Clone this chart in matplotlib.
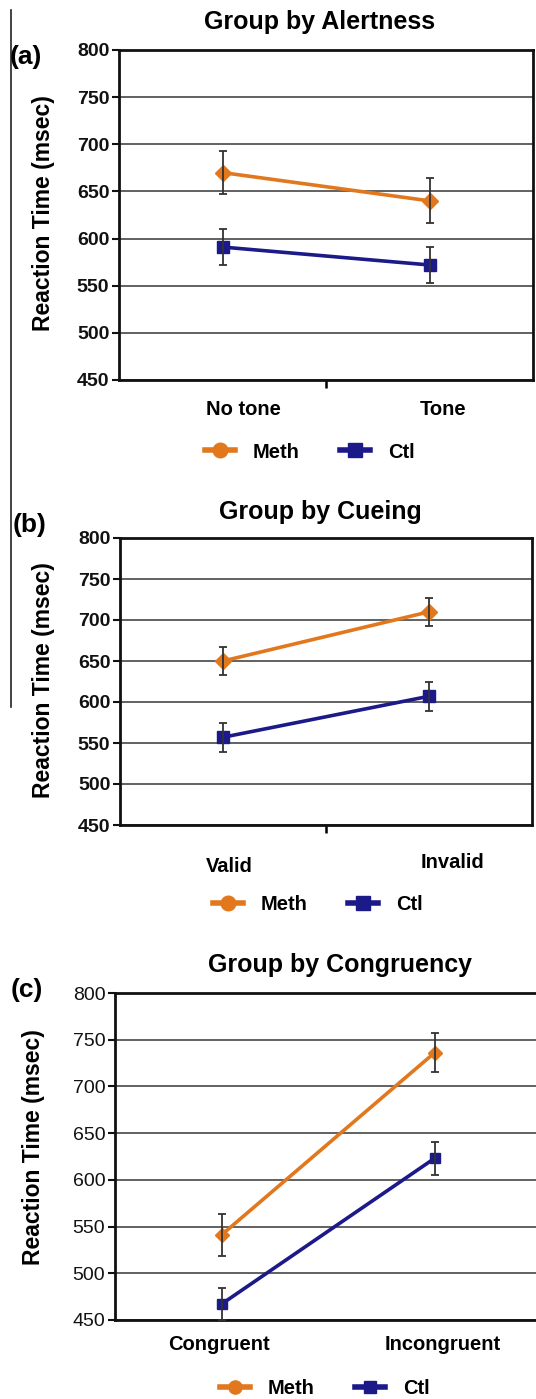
import matplotlib
matplotlib.use("Agg")
import matplotlib.pyplot as plt
from matplotlib.lines import Line2D

W, H = 536, 1399
plt.rcParams['font.family'] = ['Liberation Sans', 'DejaVu Sans']

# ---- data ----
titles = ["Group by Alertness", "Group by Cueing", "Group by Congruency"]
panel_tags = ["(a)", "(b)", "(c)"]
categories_a = ["No tone", "Tone"]
categories_b = ["Valid", "Invalid"]
categories_c = ["Congruent", "Incongruent"]
series_names = ["Meth", "Ctl"]

meth_a = [670, 640]
meth_a_err = [23, 24]
ctl_a = [591, 572]
ctl_a_err = [19, 19]

meth_b = [650, 710]
meth_b_err = [17, 17]
ctl_b = [557, 607]
ctl_b_err = [18, 18]

meth_c = [541, 736]
meth_c_err = [22, 21]
ctl_c = [467, 623]
ctl_c_err = [17, 18]

yticks = [450, 500, 550, 600, 650, 700, 750, 800]
ylabel = "Reaction Time (msec)"

ORANGE = '#E2781E'
NAVY = '#1C1A88'

fig = plt.figure(figsize=(W / 100, H / 100), dpi=100)


def fx(px):
    return px / W


def fy(py):
    return 1 - py / H


def make_axes(l, r, t, b):
    return fig.add_axes([fx(l), fy(b), fx(r) - fx(l), fy(t) - fy(b)])


panels = [
    dict(box=(119, 533, 50, 380), cats=categories_a, meth=meth_a, me=meth_a_err, ctl=ctl_a, ce=ctl_a_err,
         title_xy=(320, 22), tag_xy=(26, 57), ylab_xy=(44, 213),
         xlab=[(243, 410), (443, 410)], leg=(310, 452), ms=(8.5, 8), tickw='bold', midtick=True),
    dict(box=(120, 532, 538, 825), cats=categories_b, meth=meth_b, me=meth_b_err, ctl=ctl_b, ce=ctl_b_err,
         title_xy=(320, 512), tag_xy=(30, 525), ylab_xy=(44, 680),
         xlab=[(229, 867), (453, 863)], leg=(318, 905), ms=(8.5, 8), tickw='bold', midtick=True),
    dict(box=(115, 541, 993, 1320), cats=categories_c, meth=meth_c, me=meth_c_err, ctl=ctl_c, ce=ctl_c_err,
         title_xy=(340, 965), tag_xy=(27, 990), ylab_xy=(34, 1147),
         xlab=[(219, 1345), (443, 1345)], leg=(325, 1389), ms=(7.5, 6.5), tickw='normal', midtick=False),
]

for i, p in enumerate(panels):
    ax = make_axes(*p['box'])
    x = list(range(len(p['cats'])))
    ax.set_xlim(-0.5, len(x) - 0.5)
    ax.set_ylim(450, 800)
    ax.set_yticks(yticks)
    ax.set_yticklabels([str(v) for v in yticks], fontsize=14, fontweight=p['tickw'])
    ax.tick_params(axis='y', direction='out', length=5, width=1.5, pad=2, colors='#111111')
    if p['midtick']:
        ax.set_xticks([0.5])
        ax.set_xticklabels([''])
        ax.tick_params(axis='x', direction='out', length=6, width=1.8)
    else:
        ax.set_xticks([])
    ax.grid(axis='y', color='#555555', linewidth=1.3)
    ax.set_axisbelow(True)
    for s in ax.spines.values():
        s.set_linewidth(2)
        s.set_color('#111111')
    ax.plot(x, p['meth'], color=ORANGE, lw=2.6, marker='D', ms=p['ms'][0], zorder=3)
    ax.plot(x, p['ctl'], color=NAVY, lw=2.6, marker='s', ms=p['ms'][1], zorder=3)
    ax.errorbar(x, p['meth'], yerr=p['me'], fmt='none', ecolor='#333333', elinewidth=1.3,
                capsize=3, capthick=1.3, zorder=4)
    ax.errorbar(x, p['ctl'], yerr=p['ce'], fmt='none', ecolor='#333333', elinewidth=1.3,
                capsize=3, capthick=1.3, zorder=4)

    fig.text(fx(p['title_xy'][0]), fy(p['title_xy'][1]), titles[i], fontsize=18, fontweight='bold',
             ha='center', va='center')
    fig.text(fx(p['tag_xy'][0]), fy(p['tag_xy'][1]), panel_tags[i], fontsize=19, fontweight='bold',
             ha='center', va='center')
    fig.text(fx(p['ylab_xy'][0]), fy(p['ylab_xy'][1]), ylabel, fontsize=16.5, fontweight='bold',
             ha='center', va='center', rotation=90)
    for (lx, ly), lab in zip(p['xlab'], p['cats']):
        fig.text(fx(lx), fy(ly), lab, fontsize=14.5, fontweight='bold', ha='center', va='center')

    handles = [Line2D([], [], color=ORANGE, lw=4, marker='o', ms=p['ms'][0] + 2),
               Line2D([], [], color=NAVY, lw=4, marker='s', ms=p['ms'][1] + 2)]
    fig.legend(handles, series_names, loc='center', bbox_to_anchor=(fx(p['leg'][0]), fy(p['leg'][1])),
               ncol=2, frameon=False, handlelength=1.5, handletextpad=0.9, columnspacing=2.0,
               prop={'size': 14.5, 'weight': 'bold'})

# vertical rule on the left edge
fig.add_artist(Line2D([fx(11), fx(11)], [fy(10), fy(707)], color='#222222', lw=1.2))

fig.savefig('out.png', dpi=100)
